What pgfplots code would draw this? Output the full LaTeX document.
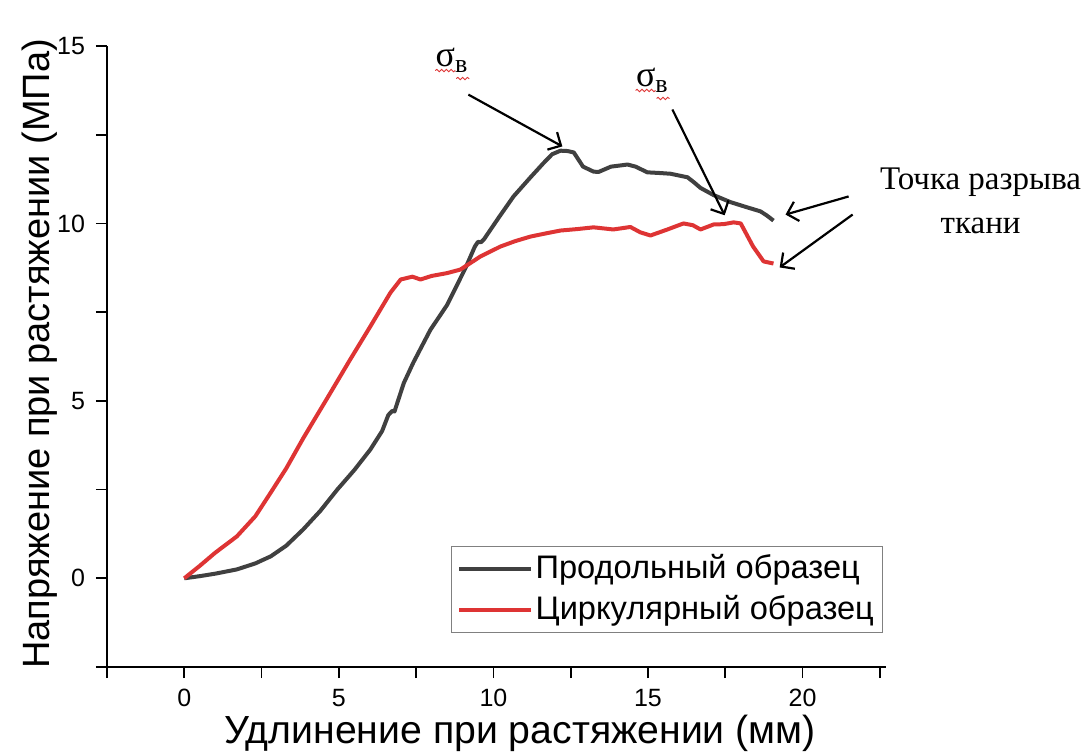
\documentclass[border=0pt]{standalone}
\usepackage{pgfplots}
\pgfplotsset{compat=1.18}
\usepackage{fontspec}
\setmainfont{Liberation Sans}
\newfontfamily\serif{Liberation Serif}
\usetikzlibrary{arrows.meta,decorations.pathmorphing}
\definecolor{cgray}{RGB}{64,64,64}
\definecolor{cred}{RGB}{222,52,52}
\begin{document}
\begin{tikzpicture}
\path[use as bounding box] (-53.5pt,-42pt) rectangle (489.5pt,333.5pt);
\begin{axis}[
  scale only axis, width=389.5pt, height=310.5pt,
  xmin=-2.5, xmax=22.7, ymin=-2.5, ymax=15,
  axis x line=bottom, axis y line=left,
  axis line style={-, line width=1pt, black},
  tick align=outside,
  xtick={0,5,10,15,20}, ytick={0,5,10,15},
  minor xtick={-2.5,2.5,7.5,12.5,17.5,22.5},
  minor ytick={-2.5,2.5,7.5,12.5},
  major tick length=5.5pt, minor tick length=5.5pt,
  every tick/.style={black, line width=0.9pt},
  tick label style={font=\fontsize{12.5}{14}\selectfont},
  xticklabel style={inner sep=0pt, yshift=-5.5pt},
  yticklabel style={xshift=-2pt},
  /pgf/number format/assume math mode=true,
  clip=false,
  xlabel={Удлинение при растяжении (мм)},
  ylabel={Напряжение при растяжении (МПа)},
  xlabel style={font=\fontsize{19.6}{23}\selectfont, inner sep=0pt, at={(axis description cs:0.53,0)}, anchor=base, yshift=-38pt},
  ylabel style={font=\fontsize{19}{23}\selectfont, inner sep=0pt, at={(axis description cs:-0.0732,0.504)}, anchor=base},
  legend style={at={(axis description cs:0.996,0.195)}, anchor=north east,
    draw=gray, line width=0.6pt, font=\fontsize{16.3}{20}\selectfont,
    inner xsep=3pt, inner ysep=1pt,
    nodes={inner sep=1.2pt, text depth=4pt, text height=14pt},
    cells={anchor=west}},
  legend image code/.code={\draw[#1] (0pt,0pt) -- (36pt,0pt);},
]
\addplot[cgray, line width=2pt, line join=round] coordinates {
(0,0) (0.5,0.06) (1,0.13) (1.7,0.25) (2.3,0.42) (2.8,0.62) (3.3,0.92)
(3.85,1.38) (4.4,1.9) (4.95,2.5) (5.5,3.05) (6.02,3.63) (6.4,4.15)
(6.6,4.6) (6.73,4.72) (6.8,4.7) (7.1,5.5) (7.41,6.08) (7.96,7.0)
(8.5,7.7) (9.1,8.75) (9.4,9.35) (9.5,9.48) (9.6,9.47) (9.7,9.56)
(10.2,10.2) (10.65,10.76) (11.2,11.3) (11.62,11.7) (11.9,11.95)
(12.17,12.05) (12.4,12.04) (12.6,12.0) (12.9,11.6) (13.24,11.46)
(13.4,11.45) (13.8,11.6) (14.34,11.66) (14.6,11.6) (14.98,11.44)
(15.4,11.42) (15.73,11.4) (16.28,11.3) (16.5,11.15) (16.7,11.0)
(17.12,10.8) (17.67,10.6) (18.22,10.45) (18.64,10.34) (18.85,10.22)
(19.06,10.08)
};
\addlegendentry{Продольный образец}
\addplot[cred, line width=2pt, line join=round] coordinates {
(0,0) (0.5,0.35) (1,0.72) (1.7,1.18) (2.3,1.75) (2.8,2.42) (3.3,3.1)
(3.85,3.95) (4.6,5.04) (5.37,6.17) (6.02,7.1) (6.67,8.05) (7.0,8.42)
(7.38,8.5) (7.64,8.42) (8.0,8.52) (8.5,8.6) (8.93,8.7) (9.25,8.88)
(9.58,9.07) (10.23,9.35) (10.7,9.5) (11.2,9.63) (11.7,9.72) (12.17,9.8)
(12.7,9.84) (13.24,9.89) (13.88,9.83) (14.43,9.9) (14.75,9.75)
(15.08,9.66) (15.63,9.83) (16.15,10.0) (16.45,9.95) (16.7,9.83)
(17.12,9.97) (17.45,9.98) (17.77,10.03) (18.0,10.0) (18.4,9.35)
(18.74,8.93) (19.06,8.87)
};
\addlegendentry{Циркулярный образец}
% annotation anchors
\coordinate (s1) at (axis cs:8.12,14.42);
\coordinate (s2) at (axis cs:14.6,13.86);
\coordinate (a1s) at (axis cs:9.19,13.63);  \coordinate (a1e) at (axis cs:12.23,12.17);
\coordinate (a2s) at (axis cs:15.79,13.21); \coordinate (a2e) at (axis cs:17.48,10.23);
\coordinate (a3s) at (axis cs:21.49,10.76); \coordinate (a3e) at (axis cs:19.45,10.25);
\coordinate (a4s) at (axis cs:21.62,10.25); \coordinate (a4e) at (axis cs:19.26,8.76);
\coordinate (t1) at (axis cs:25.76,11.15);
\coordinate (t2) at (axis cs:25.76,9.94);
\end{axis}
\foreach \s in {s1,s2}{
  \node[anchor=base west, inner sep=0pt, font=\serif\fontsize{18}{18}\selectfont] at (\s) {σ\raisebox{-3pt}{\fontsize{13}{13}\selectfont в}};
  \draw[cred, line width=0.45pt, decorate, decoration={snake, amplitude=0.6pt, segment length=2.4pt}] ([yshift=-2pt]\s) -- ([xshift=10pt,yshift=-2pt]\s);
  \draw[cred, line width=0.45pt, decorate, decoration={snake, amplitude=0.6pt, segment length=2.4pt}] ([xshift=10.5pt,yshift=-6pt]\s) -- ([xshift=17pt,yshift=-6pt]\s);
}
\foreach \a in {a1,a2,a3,a4}{
  \draw[black, line width=1.1pt, -{Straight Barb[length=5pt,width=10pt]}] (\a s) -- (\a e);
}
\node[font=\serif\fontsize{16.5}{16.5}\selectfont, anchor=center] at (t1) {Точка разрыва};
\node[font=\serif\fontsize{16.5}{16.5}\selectfont, anchor=center] at (t2) {ткани};
\end{tikzpicture}
\end{document}
